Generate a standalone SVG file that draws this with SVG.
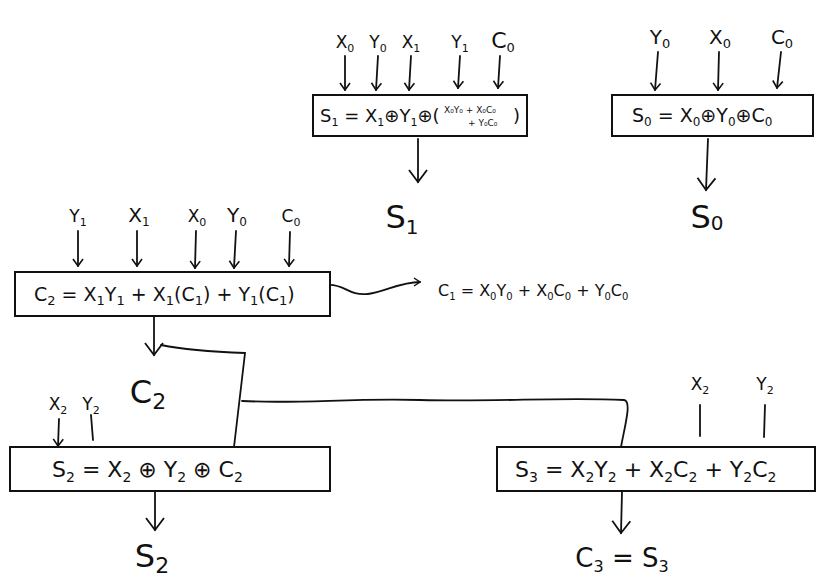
<svg xmlns="http://www.w3.org/2000/svg" width="825" height="577" viewBox="0 0 825 577">
<style>
.box{fill:#fff;stroke:#111;stroke-width:2}
.ln{fill:none;stroke:#111;stroke-width:1.8;stroke-linecap:round}
.t{font-family:"DejaVu Sans","Liberation Sans",sans-serif;fill:#111}
.in{font-size:17px}
.eq{font-size:19px}
.big{font-size:32px}
</style>
<defs>
<marker id="arr" viewBox="0 0 12 12" refX="11" refY="6" markerWidth="12" markerHeight="12" markerUnits="userSpaceOnUse" orient="auto">
<path d="M4,1 L11,6 L4,11" fill="none" stroke="#111" stroke-width="1.6"/>
</marker>
<marker id="arrBig" viewBox="0 0 20 20" refX="18" refY="10" markerWidth="20" markerHeight="20" markerUnits="userSpaceOnUse" orient="auto">
<path d="M6,1 L18,10 L6,19" fill="none" stroke="#111" stroke-width="1.8"/>
</marker>
<marker id="arrR" viewBox="0 0 10 10" refX="9" refY="5" markerWidth="10" markerHeight="10" markerUnits="userSpaceOnUse" orient="auto">
<path d="M3,1 L9,5 L3,9" fill="none" stroke="#111" stroke-width="1.5"/>
</marker>
</defs>
<rect width="825" height="577" fill="#fff"/>

<g id="connectors">
<path class="ln" marker-end="url(#arr)" d="M345,56 L345,90"/>
<path class="ln" marker-end="url(#arr)" d="M378,56 L376,90"/>
<path class="ln" marker-end="url(#arr)" d="M411,56 L409,90"/>
<path class="ln" marker-end="url(#arr)" d="M460,56 L458,88"/>
<path class="ln" marker-end="url(#arr)" d="M500,56 L498,88"/>
<path class="ln" marker-end="url(#arr)" d="M658,52 L655,90"/>
<path class="ln" marker-end="url(#arr)" d="M719,52 L718,90"/>
<path class="ln" marker-end="url(#arr)" d="M781,52 L777,88"/>
<path class="ln" marker-end="url(#arrBig)" d="M418,139 L418,182"/>
<path class="ln" marker-end="url(#arrBig)" d="M708,139 L706,190"/>
<path class="ln" marker-end="url(#arr)" d="M78,231 L78,266"/>
<path class="ln" marker-end="url(#arr)" d="M137,231 L137,266"/>
<path class="ln" marker-end="url(#arr)" d="M196,231 L195,268"/>
<path class="ln" marker-end="url(#arr)" d="M236,231 L234,268"/>
<path class="ln" marker-end="url(#arr)" d="M290,232 L289,266"/>
<path class="ln" marker-end="url(#arrR)" d="M298,288 L328,285 C345,284 348,296 368,294 C385,292 400,282 420,282"/>
<path class="ln" marker-end="url(#arrBig)" d="M154,317 L154,355"/>
<path class="ln" d="M161,345 C185,350 215,352 245,353 L234,447"/>
<path class="ln" d="M242,401 C300,404 350,398 420,400 C500,402 560,397 624,400 C632,401 625,425 621,447"/>
<path class="ln" marker-end="url(#arr)" d="M59,419 L58,446"/>
<path class="ln" d="M91,415 L93,440"/>
<path class="ln" marker-end="url(#arrBig)" d="M155,492 L155,530"/>
<path class="ln" d="M700,405 L700,436"/>
<path class="ln" d="M765,405 L764,437"/>
<path class="ln" marker-end="url(#arrBig)" d="M622,492 L621,533"/>
</g>

<g id="labels" class="t in">
<text x="345" y="48" text-anchor="middle">X<tspan font-size="11" dy="4">0</tspan></text>
<text x="378" y="48" text-anchor="middle">Y<tspan font-size="11" dy="4">0</tspan></text>
<text x="411" y="48" text-anchor="middle">X<tspan font-size="11" dy="4">1</tspan></text>
<text x="460" y="48" text-anchor="middle">Y<tspan font-size="11" dy="4">1</tspan></text>
<text x="503" y="48" text-anchor="middle" font-size="22">C<tspan font-size="13" dy="4">0</tspan></text>
<text x="660" y="44" text-anchor="middle" font-size="20">Y<tspan font-size="13" dy="4">0</tspan></text>
<text x="720" y="44" text-anchor="middle" font-size="20">X<tspan font-size="13" dy="4">0</tspan></text>
<text x="782" y="44" text-anchor="middle" font-size="20">C<tspan font-size="13" dy="4">0</tspan></text>
<text x="78" y="222" text-anchor="middle">Y<tspan font-size="11" dy="4">1</tspan></text>
<text x="139" y="222" text-anchor="middle" font-size="20">X<tspan font-size="12" dy="4">1</tspan></text>
<text x="197" y="222" text-anchor="middle">X<tspan font-size="11" dy="4">0</tspan></text>
<text x="237" y="222" text-anchor="middle" font-size="20">Y<tspan font-size="12" dy="4">0</tspan></text>
<text x="291" y="222" text-anchor="middle">C<tspan font-size="11" dy="4">0</tspan></text>
<text x="438" y="296" font-size="16">C<tspan font-size="10" dy="4">1</tspan><tspan dy="-4"> = X</tspan><tspan font-size="10" dy="4">0</tspan><tspan dy="-4">Y</tspan><tspan font-size="10" dy="4">0</tspan><tspan dy="-4"> + X</tspan><tspan font-size="10" dy="4">0</tspan><tspan dy="-4">C</tspan><tspan font-size="10" dy="4">0</tspan><tspan dy="-4"> + Y</tspan><tspan font-size="10" dy="4">0</tspan><tspan dy="-4">C</tspan><tspan font-size="10" dy="4">0</tspan></text>
<text x="58" y="410" text-anchor="middle">X<tspan font-size="11" dy="4">2</tspan></text>
<text x="91" y="410" text-anchor="middle">Y<tspan font-size="11" dy="4">2</tspan></text>
<text x="700" y="390" text-anchor="middle">X<tspan font-size="11" dy="4">2</tspan></text>
<text x="765" y="390" text-anchor="middle">Y<tspan font-size="11" dy="4">2</tspan></text>
<text x="402" y="228" text-anchor="middle" class="big">S<tspan font-size="20" dy="6">1</tspan></text>
<text x="707" y="228" text-anchor="middle" class="big">S<tspan font-size="20" dy="2">0</tspan></text>
<text x="148" y="403" text-anchor="middle" class="big">C<tspan font-size="22" dy="6">2</tspan></text>
<text x="152" y="567" text-anchor="middle" class="big">S<tspan font-size="22" dy="6">2</tspan></text>
<text x="622" y="567" text-anchor="middle" font-size="26">C<tspan font-size="16" dy="5">3</tspan><tspan dy="-5"> = S</tspan><tspan font-size="16" dy="5">3</tspan></text>
</g>

<g id="node-s1">
<rect class="box" x="313" y="95" width="214" height="41"/>
<text class="t" x="320" y="122" font-size="18">S<tspan font-size="11" dy="4">1</tspan><tspan dy="-4"> = X</tspan><tspan font-size="11" dy="4">1</tspan><tspan dy="-4">⊕Y</tspan><tspan font-size="11" dy="4">1</tspan><tspan dy="-4">⊕(</tspan></text>
<text class="t" x="444" y="113" font-size="9">X₀Y₀ + X₀C₀</text>
<text class="t" x="468" y="126" font-size="9">+ Y₀C₀</text>
<text class="t" x="513" y="122" font-size="18">)</text>
</g>

<g id="node-s0">
<rect class="box" x="612" y="95" width="201" height="41"/>
<text class="t eq" x="632" y="122">S<tspan font-size="12" dy="4">0</tspan><tspan dy="-4"> = X</tspan><tspan font-size="12" dy="4">0</tspan><tspan dy="-4">⊕Y</tspan><tspan font-size="12" dy="4">0</tspan><tspan dy="-4">⊕C</tspan><tspan font-size="12" dy="4">0</tspan></text>
</g>

<g id="node-c2">
<rect class="box" x="15" y="272" width="315" height="44"/>
<text class="t eq" x="34" y="301" font-size="20">C<tspan font-size="13" dy="4">2</tspan><tspan dy="-4"> = X</tspan><tspan font-size="13" dy="4">1</tspan><tspan dy="-4">Y</tspan><tspan font-size="13" dy="4">1</tspan><tspan dy="-4"> + X</tspan><tspan font-size="13" dy="4">1</tspan><tspan dy="-4">(C</tspan><tspan font-size="13" dy="4">1</tspan><tspan dy="-4">) + Y</tspan><tspan font-size="13" dy="4">1</tspan><tspan dy="-4">(C</tspan><tspan font-size="13" dy="4">1</tspan><tspan dy="-4">)</tspan></text>
</g>

<g id="node-s2">
<rect class="box" x="10" y="447" width="320" height="44"/>
<text class="t" x="52" y="477" font-size="22">S<tspan font-size="14" dy="5">2</tspan><tspan dy="-5">  =  X</tspan><tspan font-size="14" dy="5">2</tspan><tspan dy="-5"> ⊕ Y</tspan><tspan font-size="14" dy="5">2</tspan><tspan dy="-5"> ⊕ C</tspan><tspan font-size="14" dy="5">2</tspan></text>
</g>

<g id="node-s3">
<rect class="box" x="497" y="447" width="318" height="44"/>
<text class="t" x="515" y="477" font-size="22">S<tspan font-size="14" dy="5">3</tspan><tspan dy="-5"> = X</tspan><tspan font-size="14" dy="5">2</tspan><tspan dy="-5">Y</tspan><tspan font-size="14" dy="5">2</tspan><tspan dy="-5"> + X</tspan><tspan font-size="14" dy="5">2</tspan><tspan dy="-5">C</tspan><tspan font-size="14" dy="5">2</tspan><tspan dy="-5"> + Y</tspan><tspan font-size="14" dy="5">2</tspan><tspan dy="-5">C</tspan><tspan font-size="14" dy="5">2</tspan></text>
</g>
</svg>
